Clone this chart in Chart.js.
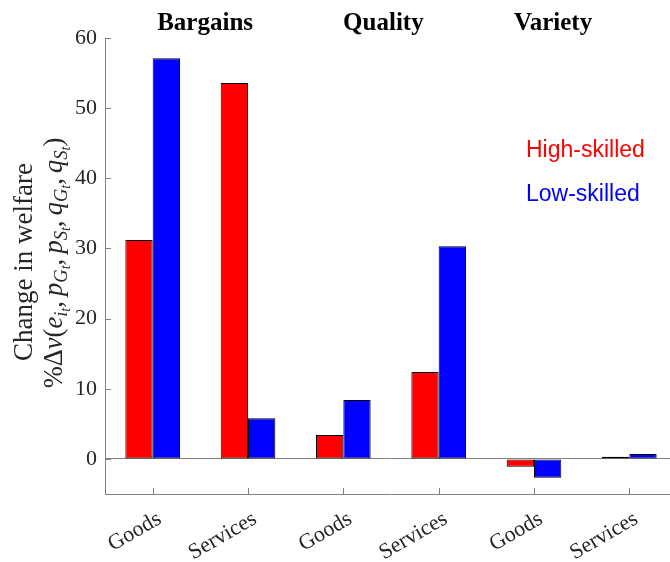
<!DOCTYPE html>
<html><head><meta charset="utf-8">
<script src="https://cdn.jsdelivr.net/npm/chart.js@4.4.0/dist/chart.umd.min.js"></script>
<style>html,body{margin:0;padding:0;overflow:hidden;background:#fff;width:670px;height:562px}canvas{display:block}</style>
</head><body>
<canvas id="c" width="677" height="562" style="width:677px;height:562px"></canvas>
<script>
const categories = ['Goods', 'Services', 'Goods', 'Services', 'Goods', 'Services'];
const highSkilled = [31.2, 53.6, 3.4, 12.4, -1.1, 0.3];
const lowSkilled  = [57.1, 5.8, 8.4, 30.3, -2.7, 0.7];
const yTicks = [0, 10, 20, 30, 40, 50, 60];
const groupTitles = ['Bargains', 'Quality', 'Variety'];
const seriesNames = ['High-skilled', 'Low-skilled'];
const yTitle = 'Change in welfare';

const AXIS_COLOR = '#808080';
const TEXT_COLOR = '#262626';
const SERIF = '"Liberation Serif", "Times New Roman", serif';
const SANS = '"Liberation Sans", Arial, sans-serif';
const TITLE_X = [1.55, 3.42, 5.2];

const mathLabel = [
  ['%','n',0],['\u0394','n',0],['v','i',0],['(','n',0],
  ['e','i',0],['i','i',1],['t','i',2],[',','c',0],
  ['p','i',0],['G','i',1],['t','i',2],[',','c',0],
  ['p','i',0],['S','i',1],['t','i',2],[',','c',0],
  ['q','i',0],['G','i',1],['t','i',2],[',','c',0],
  ['q','i',0],['S','i',1],['t','i',2],[')','n',0]
];

function segFont(seg, S) {
  const size = seg[2] === 0 ? S : (seg[2] === 1 ? S * 0.7 : S * 0.52);
  return (seg[1] === 'i' ? 'italic ' : '') + size.toFixed(1) + 'px ' + SERIF;
}

const decor = {
  id: 'decor',
  afterDraw(chart) {
    const {ctx, chartArea: a, scales: {x, y}} = chart;
    ctx.save();
    ctx.strokeStyle = AXIS_COLOR; ctx.lineWidth = 1;
    ctx.beginPath();
    y.ticks.forEach(t => { const py = Math.round(y.getPixelForValue(t.value)) + 0.5; ctx.moveTo(a.left, py); ctx.lineTo(a.left + 6, py); });
    x.ticks.forEach(t => { const px = Math.round(x.getPixelForValue(t.value)) + 0.5; ctx.moveTo(px, a.bottom); ctx.lineTo(px, a.bottom - 6); });
    ctx.stroke();
    ctx.fillStyle = '#000';
    ctx.font = 'bold 25px ' + SERIF;
    ctx.textAlign = 'center'; ctx.textBaseline = 'alphabetic';
    groupTitles.forEach((g, i) => ctx.fillText(g, x.getPixelForValue(TITLE_X[i]), 30));
    ctx.font = '23px ' + SANS; ctx.textAlign = 'left';
    chart.data.datasets.forEach((ds, i) => {
      ctx.fillStyle = ds.backgroundColor;
      ctx.fillText(ds.label, 526, 157 + i * 44);
    });
    ctx.fillStyle = TEXT_COLOR;
    ctx.save();
    ctx.translate(32, 262); ctx.rotate(-Math.PI / 2);
    ctx.font = '27px ' + SERIF; ctx.textAlign = 'center';
    ctx.fillText(yTitle, 0, 0);
    ctx.restore();
    const S = 26.5;
    let total = 0;
    mathLabel.forEach(seg => { ctx.font = segFont(seg, S); total += ctx.measureText(seg[0]).width + (seg[1] === 'c' ? S * 0.2 : 0); });
    ctx.save();
    ctx.translate(62, 263); ctx.rotate(-Math.PI / 2);
    ctx.textAlign = 'left';
    let cx = -total / 2;
    mathLabel.forEach(seg => {
      ctx.font = segFont(seg, S);
      const dy = seg[2] === 0 ? 0 : (seg[2] === 1 ? S * 0.18 : S * 0.3);
      ctx.fillText(seg[0], cx, dy);
      cx += ctx.measureText(seg[0]).width + (seg[1] === 'c' ? S * 0.2 : 0);
    });
    ctx.restore();
    ctx.restore();
  }
};

new Chart(document.getElementById('c'), {
  type: 'bar',
  data: {
    datasets: [
      { label: seriesNames[0], data: highSkilled.map((v, i) => ({x: i + 1, y: v})), backgroundColor: '#ff0000', borderColor: '#000', borderWidth: 1, borderSkipped: false },
      { label: seriesNames[1], data: lowSkilled.map((v, i) => ({x: i + 1, y: v})), backgroundColor: '#0000ff', borderColor: '#000', borderWidth: 1, borderSkipped: false }
    ]
  },
  options: {
    responsive: false, animation: false, devicePixelRatio: 1,
    categoryPercentage: 0.573, barPercentage: 1,
    layout: { padding: { top: 38, left: 0, right: 0, bottom: 0 } },
    plugins: { legend: { display: false }, tooltip: { enabled: false } },
    scales: {
      x: {
        type: 'linear', min: 0.5, max: 6.5, offset: false,
        grid: { display: false, drawTicks: false },
        border: { display: true, color: AXIS_COLOR, width: 1 },
        afterBuildTicks: s => { s.ticks = categories.map((_, i) => ({value: i + 1})); },
        ticks: { autoSkip: false, minRotation: 30, maxRotation: 30, padding: 12, labelOffset: 7, color: TEXT_COLOR,
                 font: { family: SERIF, size: 22 }, callback: v => categories[Math.round(v) - 1] ?? '' },
        afterFit: s => { s.height = 68; }
      },
      y: {
        min: -5, max: 60,
        grid: { drawTicks: false, lineWidth: 1, color: c => (c.tick && c.tick.value === 0) ? AXIS_COLOR : 'rgba(0,0,0,0)' },
        border: { display: true, color: AXIS_COLOR, width: 1 },
        afterBuildTicks: s => { s.ticks = yTicks.map(v => ({value: v})); },
        ticks: { padding: 8, color: TEXT_COLOR, font: { family: SERIF, size: 22 } },
        afterFit: s => { s.width = 105; }
      }
    }
  },
  plugins: [decor]
});
</script>
</body></html>
